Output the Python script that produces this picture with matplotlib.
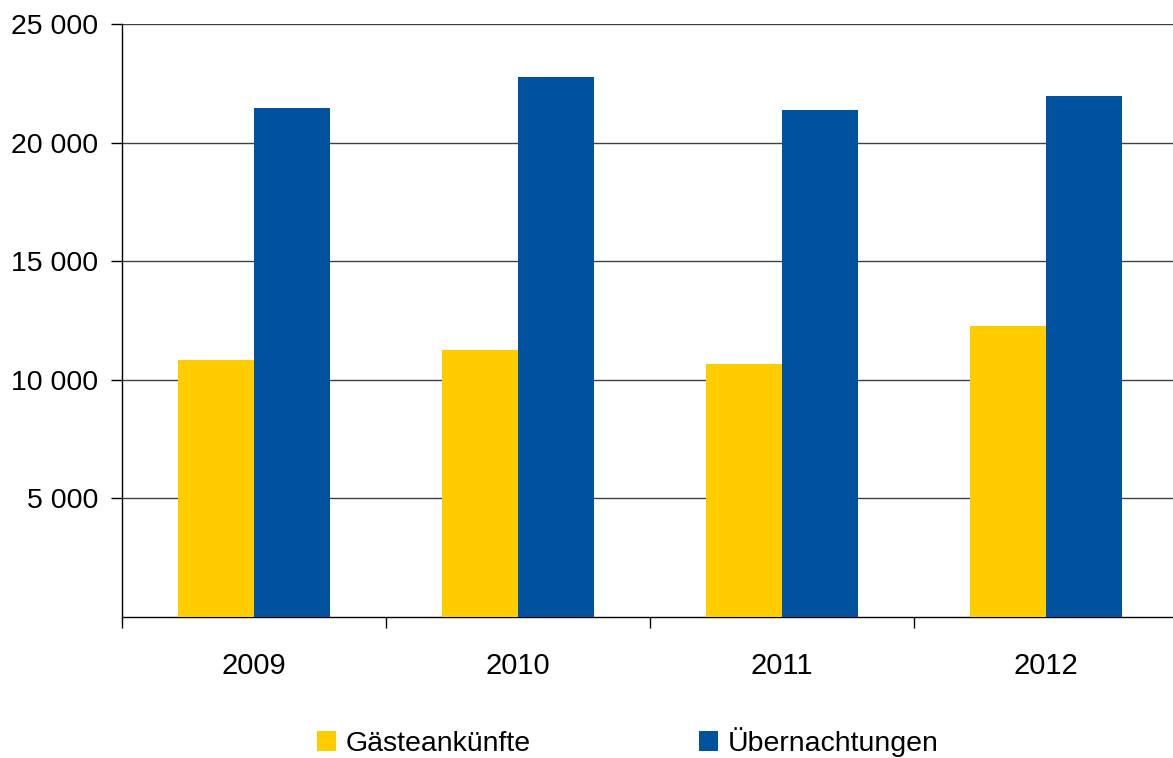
import matplotlib.pyplot as plt
import numpy as np

jahre = ['2009', '2010', '2011', '2012']
ankuenfte = [10840, 11260, 10670, 12270]
uebernachtungen = [21460, 22770, 21370, 21960]
yticks = [5000, 10000, 15000, 20000, 25000]
ylabels = ['5 000', '10 000', '15 000', '20 000', '25 000']

plt.rcParams['font.family'] = ['Liberation Sans', 'DejaVu Sans']

fig = plt.figure(figsize=(11.73, 7.58), dpi=100)
ax = fig.add_axes([122 / 1173, 141 / 758, 1056 / 1173, 593 / 758])

x = np.arange(len(jahre))
w = 0.287
ax.bar(x - w / 2, ankuenfte, w, color='#FFCC00', label='Gästeankünfte', zorder=3)
ax.bar(x + w / 2, uebernachtungen, w, color='#00529F', label='Übernachtungen', zorder=3)

ax.set_xlim(-0.5, 3.5)
ax.set_ylim(0, 25000)
ax.set_yticks(yticks)
ax.set_yticklabels(ylabels)
ax.set_xticks(x)
ax.set_xticklabels(jahre)
ax.set_xticks(np.arange(-0.5, 4, 1), minor=True)
ax.tick_params(axis='x', which='major', length=0, pad=25, labelsize=21)
ax.tick_params(axis='x', which='minor', length=8, width=1, direction='out')
ax.tick_params(axis='y', length=8, width=1, pad=9, labelsize=20.5)
ax.yaxis.grid(True, color='#404040', linewidth=1, zorder=0)

for s in ['top', 'right']:
    ax.spines[s].set_visible(False)
ax.spines['left'].set_linewidth(1)
ax.spines['bottom'].set_linewidth(1)

fig.legend(loc='center', bbox_to_anchor=(628 / 1173, 16 / 758), ncol=2,
           frameon=False, fontsize=20.5, handlelength=0.67, handleheight=0.67,
           handletextpad=0.35, columnspacing=5.9)

plt.savefig('out.png', dpi=100)
